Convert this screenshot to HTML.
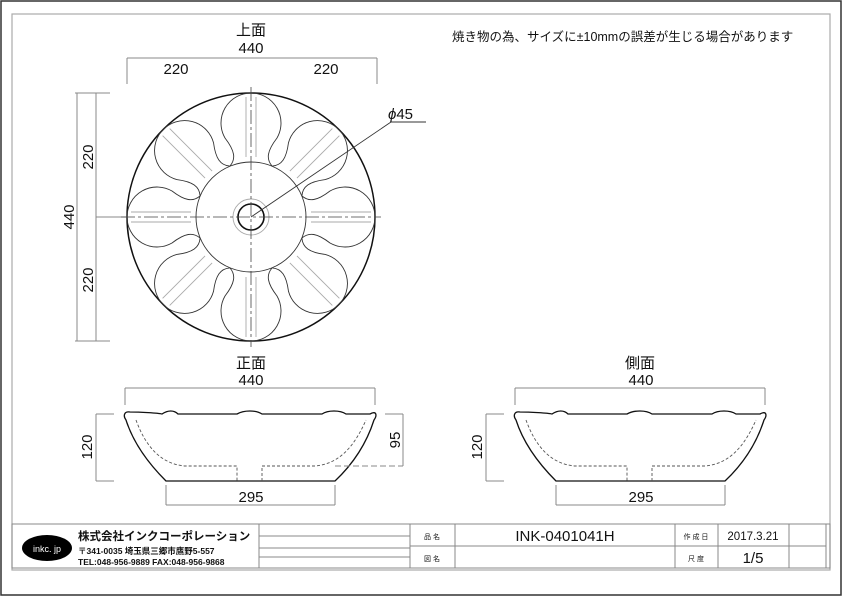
<!DOCTYPE html>
<html><head><meta charset="utf-8"><style>
body{margin:0;background:#fff}
svg{display:block}
text{font-family:"Liberation Sans","Noto Sans CJK JP",sans-serif;fill:#111}
</style></head><body>
<svg width="842" height="596" viewBox="0 0 842 596" xmlns="http://www.w3.org/2000/svg">
<defs>
<g id="petal">
<path d="M -21 -51 C -15 -58, -16 -66, -26 -79 A 30 30 0 1 1 26 -79 C 16 -66, 15 -58, 21 -51" fill="none" stroke="#333" stroke-width="0.9"/>
<line x1="-5" y1="-60" x2="-5" y2="-120" stroke="#aaa" stroke-width="0.9"/>
<line x1="5" y1="-60" x2="5" y2="-120" stroke="#aaa" stroke-width="0.9"/>
</g>
<g id="bowl">
<path d="M 130 412 C 140 412, 158 413, 162 414 C 168 410, 174 410, 178 414 L 237 414 C 244 410, 256 410, 262 414 L 322 414 C 328 410, 340 410, 346 414 L 370 414 C 377 410, 377 416, 374 420 C 366 445, 352 465, 335 481 L 166 481 C 150 465, 134 445, 126 420 C 123 416, 124 411, 130 412 Z" fill="none" stroke="#111" stroke-width="1.3"/>
<path d="M 136 420 C 145 445, 160 464, 185 466 L 237 466 L 237 481 M 262 481 L 262 466 L 315 466 C 340 464, 355 445, 366 420" fill="none" stroke="#555" stroke-width="0.9" stroke-dasharray="3,2"/>
<line x1="125" y1="388" x2="375" y2="388" stroke="#888"/>
<line x1="125" y1="388" x2="125" y2="405" stroke="#888"/>
<line x1="375" y1="388" x2="375" y2="405" stroke="#888"/>
<line x1="166" y1="505" x2="335" y2="505" stroke="#888"/>
<line x1="166" y1="485" x2="166" y2="505" stroke="#888"/>
<line x1="335" y1="485" x2="335" y2="505" stroke="#888"/>
<text x="251" y="502" font-size="15" text-anchor="middle">295</text>
<text x="251" y="385" font-size="15" text-anchor="middle">440</text>
</g>
</defs>
<rect x="1" y="1" width="840" height="594" fill="none" stroke="#333" stroke-width="1.5"/>
<rect x="12" y="14" width="818" height="556" fill="none" stroke="#aaa" stroke-width="1.2"/>

<text x="452" y="41" font-size="12.5">焼き物の為、サイズに±10mmの誤差が生じる場合があります</text>

<text x="251" y="35" font-size="15" text-anchor="middle">上面</text>
<text x="251" y="53" font-size="15" text-anchor="middle">440</text>
<text x="176" y="74" font-size="15" text-anchor="middle">220</text>
<text x="326" y="74" font-size="15" text-anchor="middle">220</text>
<g stroke="#888" stroke-width="1">
<line x1="127" y1="58" x2="377" y2="58"/>
<line x1="127" y1="58" x2="127" y2="84"/>
<line x1="377" y1="58" x2="377" y2="84"/>
<line x1="77" y1="93" x2="77" y2="341"/>
<line x1="96" y1="93" x2="96" y2="341"/>
<line x1="75" y1="93" x2="110" y2="93"/>
<line x1="75" y1="341" x2="110" y2="341"/>
<line x1="96" y1="217" x2="126" y2="217"/>
</g>
<text transform="translate(93,157) rotate(-90)" font-size="15" text-anchor="middle">220</text>
<text transform="translate(93,280) rotate(-90)" font-size="15" text-anchor="middle">220</text>
<text transform="translate(74,217) rotate(-90)" font-size="15" text-anchor="middle">440</text>

<g transform="translate(251,217)">
<circle r="124" fill="none" stroke="#111" stroke-width="1.5"/>
<circle r="55" fill="none" stroke="#333" stroke-width="0.9"/>
<use href="#petal"/>
<use href="#petal" transform="rotate(45)"/>
<use href="#petal" transform="rotate(90)"/>
<use href="#petal" transform="rotate(135)"/>
<use href="#petal" transform="rotate(180)"/>
<use href="#petal" transform="rotate(225)"/>
<use href="#petal" transform="rotate(270)"/>
<use href="#petal" transform="rotate(315)"/>
<circle r="18" fill="none" stroke="#aaa" stroke-width="0.9"/>
<circle r="13" fill="none" stroke="#111" stroke-width="1.6"/>
<line x1="-130" y1="0" x2="130" y2="0" stroke="#444" stroke-width="0.8" stroke-dasharray="14,3,3,3"/>
<line x1="0" y1="-130" x2="0" y2="130" stroke="#444" stroke-width="0.8" stroke-dasharray="14,3,3,3"/>
<line x1="0" y1="0" x2="140" y2="-95" stroke="#333" stroke-width="0.9"/>
<line x1="140" y1="-95" x2="175" y2="-95" stroke="#333" stroke-width="0.9"/>
</g>
<text x="388" y="119" font-size="15"><tspan font-style="italic">ϕ</tspan>45</text>

<text x="251" y="368" font-size="15" text-anchor="middle">正面</text>
<use href="#bowl"/>
<g stroke="#888">
<line x1="96" y1="414" x2="96" y2="481"/>
<line x1="96" y1="414" x2="114" y2="414"/>
<line x1="96" y1="481" x2="114" y2="481"/>
<line x1="403" y1="414" x2="403" y2="466"/>
<line x1="385" y1="414" x2="403" y2="414"/>
<line x1="335" y1="466" x2="403" y2="466" stroke-dasharray="6,3"/>
</g>
<text transform="translate(92,447) rotate(-90)" font-size="15" text-anchor="middle">120</text>
<text transform="translate(400,440) rotate(-90)" font-size="15" text-anchor="middle">95</text>

<text x="640" y="368" font-size="15" text-anchor="middle">側面</text>
<use href="#bowl" transform="translate(390,0)"/>
<g stroke="#888">
<line x1="486" y1="414" x2="486" y2="481"/>
<line x1="486" y1="414" x2="504" y2="414"/>
<line x1="486" y1="481" x2="504" y2="481"/>
</g>
<text transform="translate(482,447) rotate(-90)" font-size="15" text-anchor="middle">120</text>

<g stroke="#888" fill="none" stroke-width="1">
<rect x="12" y="524" width="818" height="44"/>
<line x1="259" y1="524" x2="259" y2="568"/>
<line x1="410" y1="524" x2="410" y2="568"/>
<line x1="455" y1="524" x2="455" y2="568"/>
<line x1="675" y1="524" x2="675" y2="568"/>
<line x1="718" y1="524" x2="718" y2="568"/>
<line x1="789" y1="524" x2="789" y2="568"/>
<line x1="826" y1="524" x2="826" y2="568"/>
<line x1="410" y1="546" x2="826" y2="546"/>
<line x1="259" y1="536" x2="410" y2="536"/>
<line x1="259" y1="548" x2="410" y2="548"/>
<line x1="259" y1="557" x2="410" y2="557"/>
</g>
<ellipse cx="47" cy="548" rx="25" ry="13" fill="#000"/>
<text x="47" y="552" font-size="9" text-anchor="middle" style="fill:#fff">inkc. jp</text>
<text x="78" y="540" font-size="11.5" font-weight="bold">株式会社インクコーポレーション</text>
<text x="78" y="554" font-size="8.5" font-weight="bold">〒341-0035 埼玉県三郷市鷹野5-557</text>
<text x="78" y="565" font-size="8.5" font-weight="bold">TEL:048-956-9889  FAX:048-956-9868</text>
<text x="432" y="539" font-size="7" text-anchor="middle">品 名</text>
<text x="432" y="561" font-size="7" text-anchor="middle">図 名</text>
<text x="565" y="541" font-size="15" text-anchor="middle">INK-0401041H</text>
<text x="696" y="539" font-size="7" text-anchor="middle">作 成 日</text>
<text x="696" y="561" font-size="7" text-anchor="middle">尺 度</text>
<text x="753" y="540" font-size="11.5" text-anchor="middle">2017.3.21</text>
<text x="753" y="563" font-size="15" text-anchor="middle">1/5</text>
</svg>
</body></html>
